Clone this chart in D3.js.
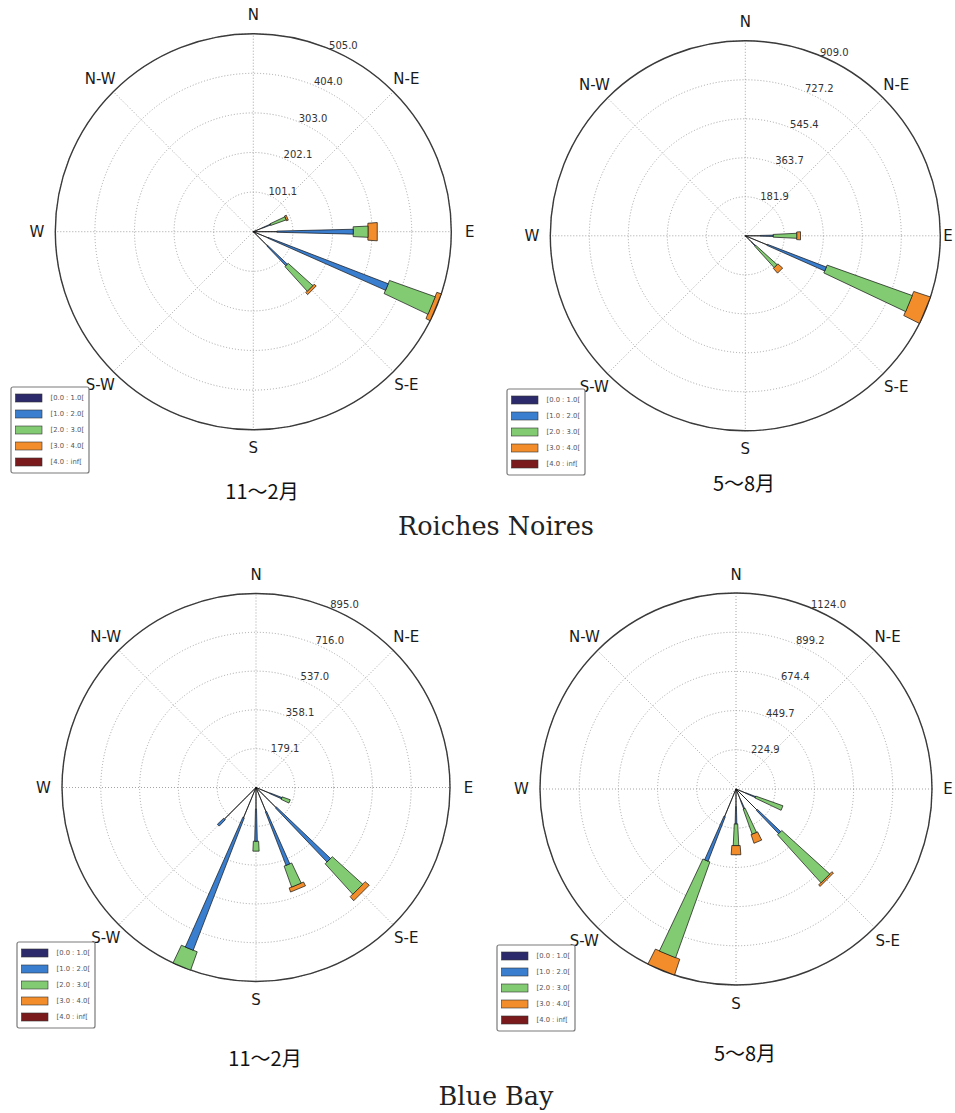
<!DOCTYPE html>
<html>
<head>
<meta charset="utf-8">
<script src="https://cdn.jsdelivr.net/npm/d3@7"></script>
<style>
  body { margin: 0; background: #fff; }
  svg { display: block; }
</style>
</head>
<body>
<svg id="fig" width="955" height="1113"></svg>
<script>
// Wind speed classes (m/s) and their colours
const speedBins = ["[0.0 : 1.0[", "[1.0 : 2.0[", "[2.0 : 3.0[", "[3.0 : 4.0[", "[4.0 : inf["];
const binColors = ["#2c2a6b", "#3a7ed0", "#82cb72", "#f38d2c", "#7b1a1c"];

// 16 direction sectors, clockwise from north
const sectorNames = ["N","NNE","NE","ENE","E","ESE","SE","SSE","S","SSW","SW","WSW","W","WNW","NW","NNW"];
const compassLabels = ["N","N-E","E","S-E","S","S-W","W","N-W"];

// Roiches Noires, November–February (counts per speed class)
const rnWinterSectors = ["ENE", "E", "ESE", "SE"];
const rnWinterCounts = [
  [25, 22, 42, 5, 0],
  [60, 195, 38, 24, 0],
  [40, 329, 124, 12, 0],
  [50, 70, 85, 7, 0]
];
const rnWinterRings = ["101.1", "202.1", "303.0", "404.0", "505.0"];

// Roiches Noires, May–August
const rnSummerSectors = ["E", "ESE", "SE"];
const rnSummerCounts = [
  [70, 60, 110, 18, 0],
  [110, 295, 422, 82, 0],
  [40, 25, 135, 30, 0]
];
const rnSummerRings = ["181.9", "363.7", "545.4", "727.2", "909.0"];

// Blue Bay, November–February
const bbWinterSectors = ["ESE", "SE", "SSE", "S", "SSW", "SW"];
const bbWinterCounts = [
  [70, 58, 40, 0, 0],
  [130, 345, 190, 25, 0],
  [120, 265, 103, 20, 0],
  [100, 148, 46, 0, 0],
  [150, 655, 90, 0, 0],
  [205, 41, 0, 0, 0]
];
const bbWinterRings = ["179.1", "358.1", "537.0", "716.0", "895.0"];

// Blue Bay, May–August
const bbSummerSectors = ["ESE", "SE", "SSE", "S", "SSW"];
const bbSummerCounts = [
  [60, 60, 166, 0, 0],
  [170, 184, 372, 12, 0],
  [70, 52, 153, 53, 0],
  [100, 100, 125, 53, 0],
  [170, 274, 584, 96, 0]
];
const bbSummerRings = ["224.9", "449.7", "674.4", "899.2", "1124.0"];

const captionWinter = "11〜2月";
const captionSummer = "5〜8月";
const siteNames = ["Roiches Noires", "Blue Bay"];

const W = 955;

// Panel layout
const panels = [
  { sectors: rnWinterSectors, counts: rnWinterCounts, rings: rnWinterRings,
    cx: 253.3, cy: 231.7, R: 198, legend: [11, 387], caption: captionWinter, capPos: [262, 499] },
  { sectors: rnSummerSectors, counts: rnSummerCounts, rings: rnSummerRings,
    cx: 745.3, cy: 235.8, R: 195, legend: [507, 389], caption: captionSummer, capPos: [744, 491] },
  { sectors: bbWinterSectors, counts: bbWinterCounts, rings: bbWinterRings,
    cx: 256, cy: 787.5, R: 194, legend: [17, 942], caption: captionWinter, capPos: [265, 1066] },
  { sectors: bbSummerSectors, counts: bbSummerCounts, rings: bbSummerRings,
    cx: 736, cy: 789, R: 196, legend: [497, 945], caption: captionSummer, capPos: [745, 1061] }
];

const svg = d3.select("#fig");

// angle of a sector index (radians, clockwise from north)
const sectorAngle = d3.scaleLinear().domain([0, sectorNames.length]).range([0, 2 * Math.PI]);
// box opening grows with speed class: 0 .. pi/16
const opening = d3.scaleLinear().domain([0, speedBins.length - 1]).range([0, Math.PI / 16]);

function drawRose(p) {
  const g = svg.append("g").attr("transform", `translate(${p.cx},${p.cy})`);
  const totals = p.counts.map(c => d3.sum(c));
  const rmax = d3.max(totals);
  const r = d3.scaleLinear().domain([0, rmax]).range([0, p.R]);

  // radial grid rings
  g.selectAll("circle.ring").data(p.rings).join("circle")
    .attr("class", "ring")
    .attr("r", d => r(parseFloat(d)))
    .attr("fill", "none").attr("stroke", "#9a9a9a")
    .attr("stroke-width", 0.9).attr("stroke-dasharray", "1,2");

  // spokes every 45 degrees
  const spokeAngles = d3.range(8).map(k => k * Math.PI / 4);
  g.selectAll("line.spoke").data(spokeAngles).join("line")
    .attr("x1", 0).attr("y1", 0)
    .attr("x2", a => p.R * Math.sin(a)).attr("y2", a => -p.R * Math.cos(a))
    .attr("stroke", "#9a9a9a").attr("stroke-width", 0.9).attr("stroke-dasharray", "1,2");

  // outer frame
  g.append("circle").attr("r", p.R).attr("fill", "none")
    .attr("stroke", "#3a3a3a").attr("stroke-width", 1.4);

  // stacked boxes: one quadrilateral per sector and speed class
  const boxes = [];
  p.sectors.forEach((name, j) => {
    const a = sectorAngle(sectorNames.indexOf(name));
    let off = 0;
    p.counts[j].forEach((v, i) => {
      if (v > 0) boxes.push({ a, i, r0: off, r1: off + v });
      off += v;
    });
  });
  // lower speed classes sit on top
  boxes.sort((u, w) => w.i - u.i);

  const radial = d3.lineRadial()
    .angle(d => d[0]).radius(d => r(d[1]))
    .curve(d3.curveLinearClosed);

  g.selectAll("path.box").data(boxes).join("path")
    .attr("class", "box")
    .attr("d", b => {
      const h = opening(b.i) / 2;
      return radial([[b.a - h, b.r0], [b.a + h, b.r0], [b.a + h, b.r1], [b.a - h, b.r1]]);
    })
    .attr("fill", b => binColors[b.i])
    .attr("stroke", "#111").attr("stroke-width", 0.7)
    .attr("stroke-linejoin", "round");

  // radial tick labels along 22.5 degrees
  const la = Math.PI / 8;
  g.selectAll("text.rlab").data(p.rings).join("text")
    .attr("x", d => r(parseFloat(d)) * Math.sin(la))
    .attr("y", d => -r(parseFloat(d)) * Math.cos(la))
    .attr("font-family", "DejaVu Sans, sans-serif").attr("font-size", 10)
    .attr("fill", "#333").attr("text-anchor", "start")
    .text(d => d);

  // compass labels (kept inside the page edge)
  g.selectAll("text.dir").data(compassLabels).join("text")
    .attr("x", (d, k) => Math.min((p.R + 18.5) * Math.sin(k * Math.PI / 4), W - 7 - p.cx))
    .attr("y", (d, k) => -(p.R + 18.5) * Math.cos(k * Math.PI / 4))
    .attr("text-anchor", "middle").attr("dominant-baseline", "central")
    .attr("font-family", "DejaVu Sans, sans-serif").attr("font-size", 15)
    .attr("fill", "#1a1a1a")
    .text(d => d);

  // legend
  const [lx, ly] = p.legend;
  const lg = svg.append("g").attr("transform", `translate(${lx},${ly})`);
  lg.append("rect").attr("width", 78).attr("height", 86).attr("rx", 2)
    .attr("fill", "#fff").attr("stroke", "#7a7a7a").attr("stroke-width", 1.2);
  const rows = lg.selectAll("g.row").data(speedBins).join("g")
    .attr("transform", (d, i) => `translate(0,${11 + 16 * i})`);
  rows.append("rect").attr("x", 4.5).attr("y", -4).attr("width", 26.5).attr("height", 8)
    .attr("fill", (d, i) => binColors[i]).attr("stroke", "#333").attr("stroke-width", 0.6);
  rows.append("text").attr("x", 39.5).attr("y", 0)
    .attr("dominant-baseline", "central")
    .attr("font-family", "DejaVu Sans, sans-serif").attr("font-size", 6.8)
    .attr("fill", "#555").text(d => d);

  // period caption
  svg.append("text").attr("x", p.capPos[0]).attr("y", p.capPos[1])
    .attr("text-anchor", "middle")
    .attr("font-family", "Noto Sans CJK JP, sans-serif").attr("font-size", 20)
    .attr("fill", "#111").text(p.caption);
}

panels.forEach(drawRose);

// site titles
svg.selectAll("text.site").data(siteNames).join("text")
  .attr("class", "site")
  .attr("x", 496).attr("y", (d, i) => [535, 1105][i])
  .attr("text-anchor", "middle")
  .attr("font-family", "DejaVu Serif, serif").attr("font-size", 25.5)
  .attr("fill", "#222").text(d => d);
</script>
</body>
</html>
